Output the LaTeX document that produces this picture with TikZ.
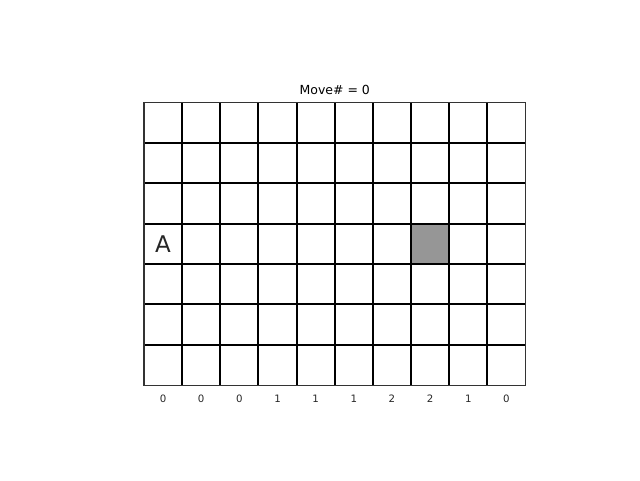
\documentclass[tikz,border=0pt]{standalone}
\usepackage{fontspec}
\setmainfont{DejaVu Sans}
\definecolor{cellgrey}{HTML}{969696}
\definecolor{txt}{HTML}{262626}
\begin{document}
\begin{tikzpicture}[x=1pt,y=-1pt,
  gridline/.style={line width=2.0pt,black},
  border/.style={line width=1.3pt,black!80},
  collabel/.style={font=\fontsize{10.2}{12}\selectfont,text=txt,anchor=center,inner sep=0pt},
  titlelabel/.style={font=\fontsize{12.5}{14}\selectfont,text=black,anchor=center,inner sep=0pt},
  agent/.style={font=\fontsize{23}{26}\selectfont,text=txt,anchor=center,inner sep=0pt}]
\useasboundingbox (0,0) rectangle (640,480);
\def\xo{144}\def\yo{102.3}\def\cw{38.15}\def\rh{40.43}
% grey cell
\fill[cellgrey] ({\xo+7*\cw},{\yo+3*\rh}) rectangle ({\xo+8*\cw},{\yo+4*\rh});
% inner grid lines
\foreach \i in {1,...,9}{
  \draw[gridline] ({\xo+\i*\cw},\yo) -- ({\xo+\i*\cw},{\yo+7*\rh});
}
\foreach \j in {1,...,6}{
  \draw[gridline] (\xo,{\yo+\j*\rh}) -- ({\xo+10*\cw},{\yo+\j*\rh});
}
% outer border
\draw[border] (\xo,\yo) rectangle ({\xo+10*\cw},{\yo+7*\rh});
% title
\node[titlelabel] (title) at ({\xo+5*\cw},90.3) {Move\# = 0};
% agent
\node[agent] (A) at ({\xo+0.5*\cw},{\yo+3.5*\rh}) {A};
% column labels
\foreach \v [count=\k from 0] in {0,0,0,1,1,1,2,2,1,0}{
  \node[collabel] (lab\k) at ({\xo+(\k+0.5)*\cw},398.5) {\v};
}
\end{tikzpicture}
\end{document}
